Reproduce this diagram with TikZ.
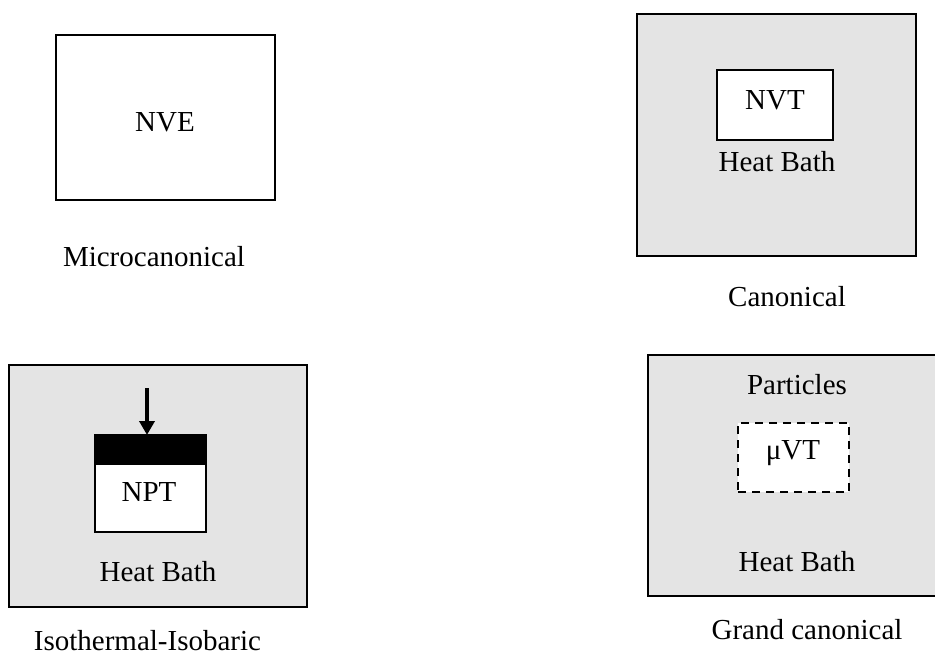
\documentclass[tikz,border=0pt]{standalone}
\usepackage{fontspec}
\setmainfont{Liberation Serif}
\usetikzlibrary{arrows.meta}
\definecolor{bathgray}{RGB}{228,228,228}
\begin{document}
\begin{tikzpicture}[x=1pt,y=-1pt,
  box/.style={draw, line width=2.8pt, inner sep=0pt, outer sep=0pt},
  bath/.style={box, fill=bathgray},
  cell/.style={box, fill=white},
  lbl/.style={inner sep=0pt, font=\fontsize{29}{34}\selectfont},
  push/.style={line width=3.5pt, -{Triangle[width=15pt,length=14pt]}},
]
\useasboundingbox (0,0) rectangle (935,656);
\clip (0,0) rectangle (935,656);
\fill[white] (0,0) rectangle (935,656);

% Microcanonical
\node[cell, minimum width=219pt, minimum height=165pt] (micro) at (165.5,117.5) {};
\node[lbl] (nve) at (165,122) {NVE};
\node[lbl] (microlbl) at (154,257) {Microcanonical};

% Canonical
\node[bath, minimum width=279pt, minimum height=242pt] (canbath) at (776.5,135) {};
\node[cell, minimum width=116pt, minimum height=70pt] (canbox) at (775,105) {};
\node[lbl] (nvt) at (775,100) {NVT};
\node[lbl] (canheat) at (777,162) {Heat Bath};
\node[lbl] (canlbl) at (787,297) {Canonical};

% Isothermal-Isobaric
\node[bath, minimum width=298pt, minimum height=242pt] (isobath) at (158,486) {};
\node[cell, minimum width=111pt, minimum height=97pt] (nptbox) at (150.5,483.5) {};
\node[box, fill=black, minimum width=111pt, minimum height=29pt] (lid) at (150.5,449.5) {};
\node[lbl] (npt) at (149,492) {NPT};
\node[lbl] (isoheat) at (158,572) {Heat Bath};
\node[lbl] (isolbl) at (147.5,641) {Isothermal-Isobaric};
\coordinate (pushtop) at (147,388);
\draw[push] (pushtop) -- (lid.north -| pushtop);

% Grand canonical
\node[bath, minimum width=297pt, minimum height=241pt] (grandbath) at (796.5,475.5) {};
\node[box, fill=white, dash pattern=on 8pt off 6pt, minimum width=111pt, minimum height=69pt] (muvt) at (793.5,457.5) {};
\node[lbl] (mu) at (793,453) {μVT};
\node[lbl] (particles) at (797,385) {Particles};
\node[lbl] (grandheat) at (797,562) {Heat Bath};
\node[lbl] (grandlbl) at (807,630) {Grand canonical};
\end{tikzpicture}
\end{document}
